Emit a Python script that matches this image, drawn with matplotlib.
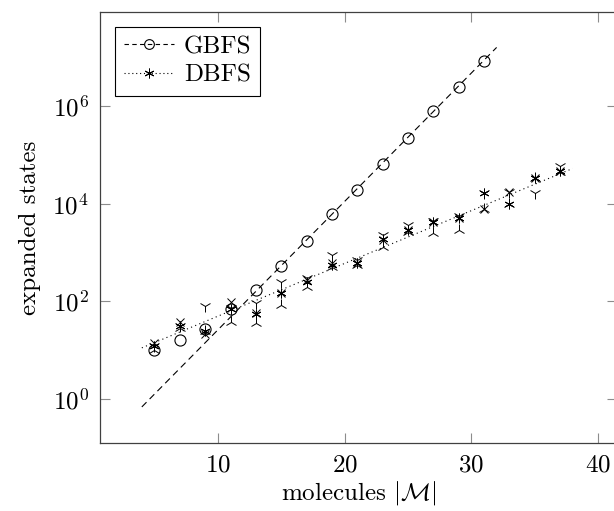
import numpy as np
from matplotlib import pyplot as plt
from matplotlib.lines import Line2D

# molecule counts
n_gbfs = [5, 7, 9, 11, 13, 15, 17, 19, 21, 23, 25, 27, 29, 31]
gbfs = [10, 16, 27, 70, 170, 540, 1740, 6200, 19000, 66000, 224000, 800000, 2450000, 8500000]

n_dbfs = [5, 7, 9, 11, 13, 15, 17, 19, 21, 23, 25, 27, 29, 31, 33, 35, 37]
dbfs_ast = [12, 32, 25, 70, 55, 150, 250, 560, 620, 1900, 2900, 4200, 5100, 16500, 10000, 34000, 47000]
dbfs_x = [14, 38, 22, 98, 58, 150, 270, 600, 600, 1800, 2900, 4300, 5100, 7800, 17500, 34000, 47000]
dbfs_tdown = [12, 32, 80, 72, 93, 250, 300, 900, 700, 2300, 3700, 4500, 5500, 16500, 17500, 16600, 59000]
dbfs_tup = [10, 28, 25, 38, 36, 85, 200, 500, 550, 1300, 2700, 2500, 2900, 8000, 10000, 34000, 45000]

# fitted trend lines (end points)
fit_gbfs_x = [4, 32]
fit_gbfs_y = [0.69, 1.6e7]
fit_dbfs_x = [4, 38]
fit_dbfs_y = [11.2, 53000]

plt.rcParams['font.family'] = 'serif'
plt.rcParams['font.serif'] = ['cmr10']
plt.rcParams['mathtext.fontset'] = 'cm'
plt.rcParams['axes.formatter.use_mathtext'] = True
plt.rcParams['font.size'] = 18

fig = plt.figure(figsize=(6.14, 5.11), dpi=100)
ax = fig.add_axes([100/614, 68/511, 517/614, 431/511])

lw = 0.8
ax.plot(fit_gbfs_x, fit_gbfs_y, color='black', lw=lw, ls=(0, (6, 4)))
ax.plot(fit_dbfs_x, fit_dbfs_y, color='black', lw=lw, ls=(0, (1, 3)))

ax.plot(n_gbfs, gbfs, ls='none', marker='o', ms=8, mfc='none', mec='black', mew=lw)

ast = (6, 2, 0)
ax.plot(n_dbfs, dbfs_ast, ls='none', marker=ast, ms=7, mec='black', mew=0.7)
ax.plot(n_dbfs, dbfs_x, ls='none', marker='x', ms=6, mec='black', mew=0.7)
ax.plot(n_dbfs, dbfs_tdown, ls='none', marker='1', ms=9, mec='black', mew=0.7)
ax.plot(n_dbfs, dbfs_tup, ls='none', marker='2', ms=9, mec='black', mew=0.7)

ax.set_yscale('log')
ax.set_xlim(0.7, 41.5)
ax.set_ylim(10**-0.90, 10**7.93)
ax.set_xticks([10, 20, 30, 40])
ax.set_yticks([1, 1e2, 1e4, 1e6])
ax.yaxis.set_minor_locator(plt.NullLocator())
ax.tick_params(direction='in', length=7, width=0.8, color='0.55', top=True, right=True, pad=8)
for s in ax.spines.values():
    s.set_linewidth(0.9)
    s.set_color('0.25')

ax.set_xlabel(r'molecules $|\mathcal{M}|$', labelpad=2)
ax.set_ylabel('expanded states', labelpad=8)

handles = [
    Line2D([], [], color='black', lw=lw, ls=(0, (4, 3)), marker='o', ms=7, mfc='none', mew=lw),
    Line2D([], [], color='black', lw=lw, ls=(0, (1, 2.5)), marker=ast, ms=7, mew=0.7),
]
leg = ax.legend(handles, ['GBFS', 'DBFS'], loc='upper left', fancybox=False,
                edgecolor='black', framealpha=1, borderpad=0.35, handlelength=2.0,
                handletextpad=0.4, labelspacing=0.25, borderaxespad=0.6)
leg.get_frame().set_linewidth(0.8)

fig.savefig('out.png', dpi=100)
